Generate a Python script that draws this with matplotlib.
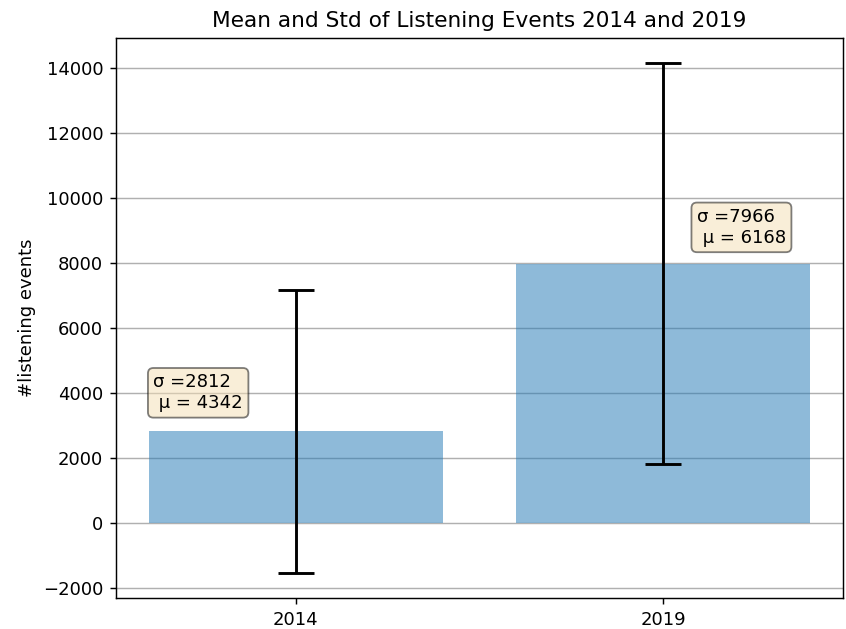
import numpy as np
import matplotlib.pyplot as plt

# data
years = ["2014", "2019"]
sigma_vals = [2812, 7966]
mu_vals = [4342, 6168]
label_y = [4000, 9090]
label_x = [-0.388, 1.092]

DPI = 130
fig = plt.figure(figsize=(846 / DPI, 629 / DPI), dpi=DPI)
ax = fig.add_axes([0.137, 0.0493, 0.8595, 0.8903])

x = np.arange(len(years))
ax.bar(x, sigma_vals, width=0.8, alpha=0.5, color="#1f77b4")
ax.errorbar(x, sigma_vals, yerr=mu_vals, fmt="none", ecolor="black",
            capsize=10, elinewidth=1.6, capthick=1.6)

for xi, yi, s, m in zip(label_x, label_y, sigma_vals, mu_vals):
    ax.text(xi, yi, f"σ ={s}\n μ = {m}", ha="left", va="center", fontsize=10,
            bbox=dict(boxstyle="round", facecolor="wheat", alpha=0.5))

ax.set_xticks(x)
ax.set_xticklabels(years)
ax.set_ylabel("#listening events")
ax.set_title("Mean and Std of Listening Events 2014 and 2019")
ax.set_axisbelow(True)
ax.yaxis.grid(True)

fig.savefig("out.png", dpi=DPI)
